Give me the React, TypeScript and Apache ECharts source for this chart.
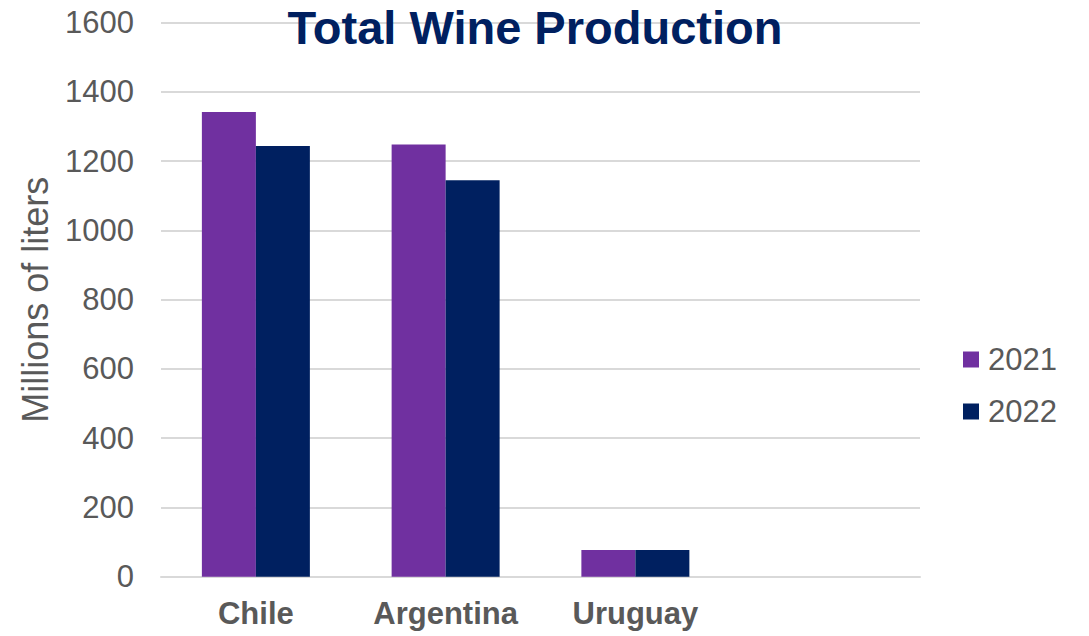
import React, { useEffect, useRef } from "react";
import * as echarts from "echarts";

const categories = ["Chile", "Argentina", "Uruguay", ""];
const values2021 = [1342, 1248, 77, null];
const values2022 = [1244, 1145, 77, null];
const seriesNames = ["2021", "2022"];
const title = "Total Wine Production";
const yAxisName = "Millions of liters";

export default function App() {
  const ref = useRef<HTMLDivElement>(null);
  useEffect(() => {
    const chart = echarts.init(ref.current!, null, { renderer: "svg" });
    const font = "Liberation Sans, Arial, sans-serif";
    chart.setOption({
      animation: false,
      backgroundColor: "#ffffff",
      title: {
        text: title,
        left: 530,
        textAlign: "center",
        top: -1,
        textStyle: { fontFamily: font, fontSize: 47, fontWeight: "bold", color: "#002060" },
      },
      legend: {
        orient: "vertical",
        left: 958,
        top: 339,
        itemWidth: 16,
        itemHeight: 16,
        itemGap: 21,
        icon: "rect",
        textStyle: { fontFamily: font, fontSize: 31, color: "#595959", padding: [0, 0, 0, 4] },
        data: seriesNames,
      },
      grid: { left: 161, right: 169, top: 22.7, bottom: 59.3, containLabel: false },
      xAxis: {
        type: "category",
        data: categories,
        axisLine: { lineStyle: { color: "#d9d9d9", width: 2 } },
        axisTick: { show: false },
        axisLabel: {
          fontFamily: font,
          fontSize: 31,
          fontWeight: "bold",
          color: "#595959",
          margin: 21,
        },
      },
      yAxis: {
        type: "value",
        min: 0,
        max: 1600,
        interval: 200,
        name: yAxisName,
        nameLocation: "middle",
        nameGap: 108,
        nameTextStyle: { fontFamily: font, fontSize: 36, color: "#595959" },
        axisLine: { show: false },
        axisTick: { show: false },
        axisLabel: {
          fontFamily: font,
          fontSize: 31,
          color: "#595959",
          margin: 27,
          formatter: (v: number) => String(v),
        },
        splitLine: { lineStyle: { color: "#d9d9d9", width: 2 } },
      },
      series: [
        {
          name: seriesNames[0],
          type: "bar",
          data: values2021,
          barWidth: 54,
          barGap: "0%",
          itemStyle: { color: "#7030A0" },
        },
        {
          name: seriesNames[1],
          type: "bar",
          data: values2022,
          barWidth: 54,
          barGap: "0%",
          itemStyle: { color: "#002060" },
        },
      ],
    });
    return () => chart.dispose();
  }, []);
  return <div ref={ref} style={{ width: 1089, height: 636, position: "absolute", left: 0, top: 0 }} />;
}
